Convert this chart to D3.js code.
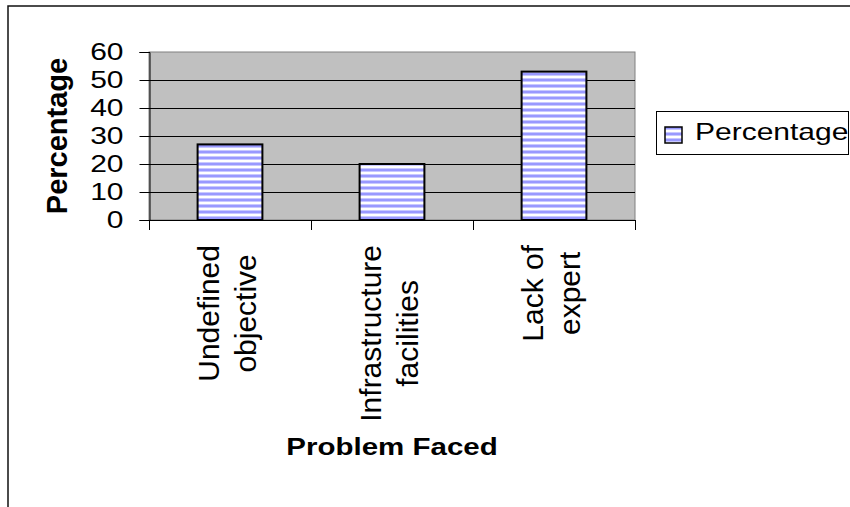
<!DOCTYPE html>
<html>
<head>
<meta charset="utf-8">
<script src="https://cdn.jsdelivr.net/npm/d3@7"></script>
<style>
  html, body { margin: 0; padding: 0; background: #fff; }
  svg { display: block; font-family: "Liberation Sans", Arial, sans-serif; }
</style>
</head>
<body>
<svg id="chart" width="850" height="507"></svg>
<script>
// Problems faced, share of respondents (%)
const categories = [
  ["Undefined", "objective"],
  ["Infrastructure", "facilities"],
  ["Lack of", "expert"]
];
const seriesName = "Percentage";
const values = [27, 20, 53];
const yTicks = [0, 10, 20, 30, 40, 50, 60];
const yTitle = "Percentage";
const xTitle = "Problem Faced";

const svg = d3.select("#chart");
const plot = { left: 149, top: 52, right: 635, bottom: 220 };

// Striped fill for the bars
const defs = svg.append("defs");
const pat = defs.append("pattern")
  .attr("id", "stripes").attr("patternUnits", "userSpaceOnUse")
  .attr("width", 6).attr("height", 6);
pat.append("rect").attr("width", 6).attr("height", 6).attr("fill", "#ffffff");
pat.append("rect").attr("y", 0).attr("width", 6).attr("height", 1).attr("fill", "#c8c8ff");
pat.append("rect").attr("y", 1).attr("width", 6).attr("height", 2).attr("fill", "#9999ff");
pat.append("rect").attr("y", 3).attr("width", 6).attr("height", 1).attr("fill", "#c8c8ff");

// Outer chart frame
svg.append("rect").attr("x", 8).attr("y", 6).attr("width", 900).attr("height", 600)
  .attr("fill", "none").attr("stroke", "#111").attr("stroke-width", 1.5);

const x = d3.scaleBand().domain(d3.range(categories.length))
  .range([plot.left, plot.right]).paddingInner(0.6).paddingOuter(0.3);
const y = d3.scaleLinear().domain([0, 60]).range([plot.bottom, plot.top]);

// Plot area
svg.append("rect").attr("x", plot.left).attr("y", plot.top)
  .attr("width", plot.right - plot.left).attr("height", plot.bottom - plot.top)
  .attr("fill", "#c0c0c0").attr("stroke", "#808080").attr("stroke-width", 1);

// Gridlines
svg.append("g").selectAll("line").data(yTicks.filter(t => t > 0 && t < 60)).join("line")
  .attr("x1", plot.left).attr("x2", plot.right)
  .attr("y1", d => Math.round(y(d)) + 0.5).attr("y2", d => Math.round(y(d)) + 0.5)
  .attr("stroke", "#000").attr("stroke-width", 1);

// Bars
svg.append("g").selectAll("rect").data(values).join("rect")
  .attr("x", (d, i) => x(i)).attr("width", x.bandwidth())
  .attr("y", d => y(d)).attr("height", d => y(0) - y(d))
  .attr("fill", "url(#stripes)").attr("stroke", "#000").attr("stroke-width", 2);

// Y axis
const yAxis = svg.append("g").attr("transform", `translate(${plot.left + 0.5},0)`)
  .call(d3.axisLeft(y).tickValues(yTicks).tickSize(10).tickPadding(16).tickFormat(d3.format("d")));
yAxis.select(".domain").attr("stroke", "#000");
yAxis.selectAll(".tick line").attr("stroke", "#000");
yAxis.selectAll(".tick text")
  .attr("font-size", 30).attr("fill", "#000")
  .attr("font-family", "Liberation Sans, Arial, sans-serif")
  .attr("transform", "scale(1,0.82)");

// X axis with boundary ticks
const xAxisG = svg.append("g");
xAxisG.append("line").attr("x1", plot.left).attr("x2", plot.right)
  .attr("y1", plot.bottom + 0.5).attr("y2", plot.bottom + 0.5).attr("stroke", "#000");
const bounds = d3.range(categories.length + 1).map(i => plot.left + i * x.step());
xAxisG.selectAll("line.tk").data(bounds).join("line").attr("class", "tk")
  .attr("x1", d => Math.round(d) + 0.5).attr("x2", d => Math.round(d) + 0.5)
  .attr("y1", plot.bottom).attr("y2", plot.bottom + 10).attr("stroke", "#000");

// Category labels, rotated, lines centred within their block
const labelTop = 245;
categories.forEach((lines, i) => {
  const cx = x(i) + x.bandwidth() / 2;
  const g = svg.append("g");
  const texts = lines.map((ln, j) => g.append("text")
    .attr("font-size", 30).attr("fill", "#000").attr("text-anchor", "middle")
    .text(ln));
  const maxLen = d3.max(texts, t => t.node().getComputedTextLength());
  const cy = labelTop + maxLen / 2;
  texts.forEach((t, j) => {
    const bx = cx - 11 + j * 37;
    t.attr("transform", `translate(${bx},${cy}) rotate(-90)`);
  });
});

// Axis titles
svg.append("text").attr("transform", "translate(67,136) rotate(-90)")
  .attr("text-anchor", "middle").attr("font-size", 29).attr("font-weight", "bold")
  .attr("fill", "#000").text(yTitle);
svg.append("text").attr("transform", `translate(${(plot.left + plot.right) / 2},455) scale(1,0.8)`)
  .attr("text-anchor", "middle").attr("font-size", 29.5).attr("font-weight", "bold")
  .attr("fill", "#000").text(xTitle);

// Legend
const lg = svg.append("g");
lg.append("rect").attr("x", 656.5).attr("y", 111.5).attr("width", 192).attr("height", 43)
  .attr("fill", "#fff").attr("stroke", "#000").attr("stroke-width", 1);
lg.append("rect").attr("x", 665).attr("y", 127).attr("width", 17).attr("height", 16)
  .attr("fill", "url(#stripes)").attr("stroke", "#000").attr("stroke-width", 1.5);
lg.append("text").attr("transform", "translate(695,140) scale(1,0.8)")
  .attr("font-size", 30).attr("fill", "#000").text(seriesName);
</script>
</body>
</html>
